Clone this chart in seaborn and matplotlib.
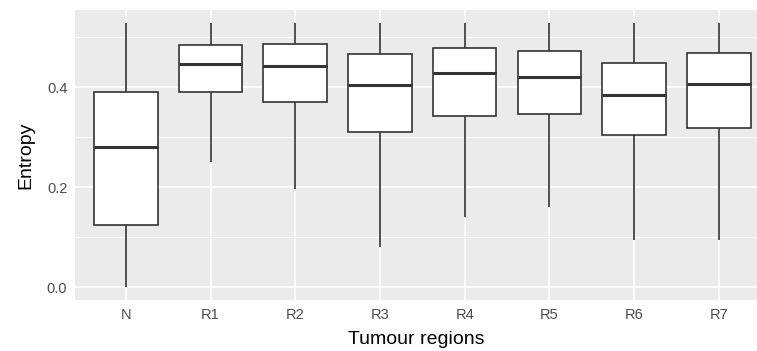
# %% packages
import pandas as pd
import seaborn as sns
import matplotlib.pyplot as plt

# %% data (min, q1, median, q3, max per region)
regions = ['N', 'R1', 'R2', 'R3', 'R4', 'R5', 'R6', 'R7']
ent_min = [0.000, 0.250, 0.197, 0.081, 0.140, 0.161, 0.095, 0.095]
ent_q1 = [0.124, 0.390, 0.370, 0.311, 0.343, 0.347, 0.304, 0.319]
ent_med = [0.281, 0.447, 0.443, 0.404, 0.429, 0.421, 0.384, 0.406]
ent_q3 = [0.390, 0.485, 0.487, 0.467, 0.479, 0.473, 0.448, 0.469]
ent_max = [0.528, 0.528, 0.528, 0.528, 0.528, 0.528, 0.528, 0.528]

# long format: five points per region give exactly these quartiles
rows = []
for i, r in enumerate(regions):
    for v in (ent_min[i], ent_q1[i], ent_med[i], ent_q3[i], ent_max[i]):
        rows.append({'region': r, 'entropy': v})
df = pd.DataFrame(rows)
df['region'] = pd.Categorical(df['region'], categories=regions, ordered=True)

# %% plot
sns.set_theme(style='darkgrid', rc={'axes.facecolor': '#EBEBEB'})
plt.rcParams['font.family'] = ['Liberation Sans', 'DejaVu Sans']

fig = plt.figure(figsize=(7.57, 3.51), dpi=100)
ax = fig.add_axes([0.099, 0.145, 0.901, 0.827])

line_col = '#333333'
sns.boxplot(data=df, x='region', y='entropy', order=regions, ax=ax,
            whis=(0, 100), width=0.75, color='white', linecolor=line_col,
            linewidth=1.2, saturation=1,
            medianprops={'linewidth': 2.2, 'color': line_col},
            capprops={'linewidth': 0})

ax.set_xlim(-0.6, 7.45)
ax.set_ylim(-0.0254, 0.5546)
ax.set_yticks([0.0, 0.2, 0.4])
ax.set_yticklabels(['0.0', '0.2', '0.4'])
ax.set_yticks([0.1, 0.3, 0.5], minor=True)

ax.set_axisbelow(True)
ax.grid(which='major', color='white', linewidth=1.2)
ax.grid(which='minor', axis='y', color='white', linewidth=0.6)
for s in ax.spines.values():
    s.set_visible(False)

ax.tick_params(which='major', length=3, width=0.9, color=line_col,
               labelsize=10.5, labelcolor='#4D4D4D', pad=2.5)
ax.tick_params(which='minor', length=0)

ax.set_xlabel('Tumour regions', fontsize=14, color='black', labelpad=7)
ax.set_ylabel('Entropy', fontsize=14, color='black', labelpad=9)

plt.savefig('out.png', dpi=100)
